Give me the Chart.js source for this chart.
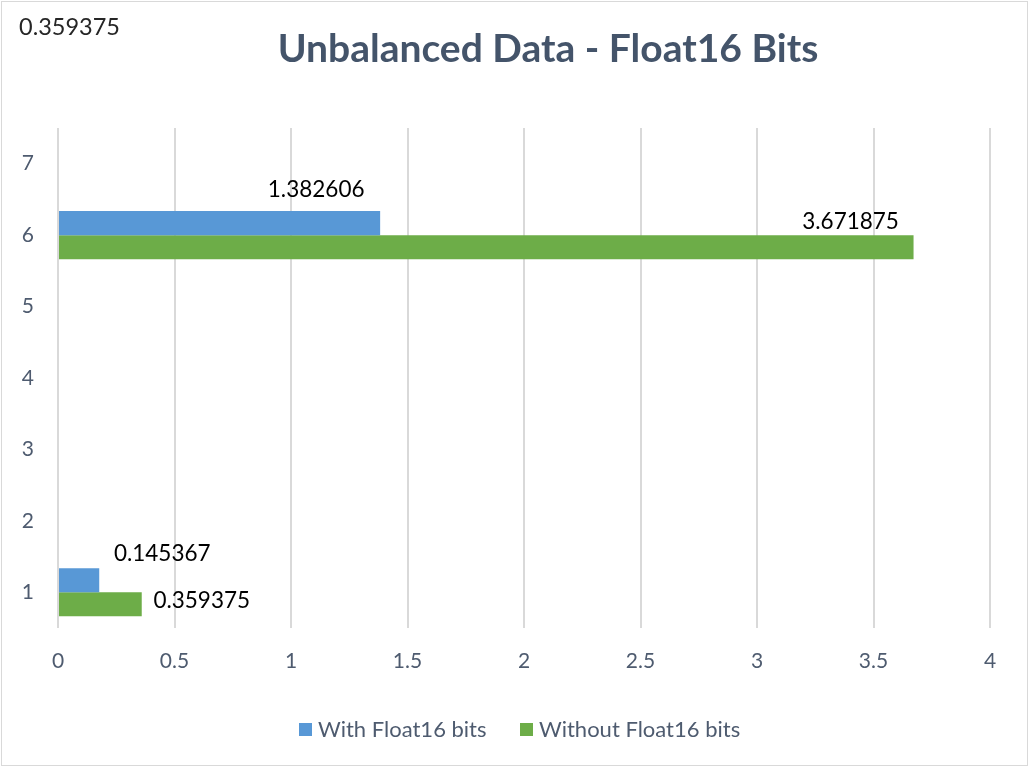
<!DOCTYPE html>
<html>
<head>
<meta charset="utf-8">
<script src="https://cdn.jsdelivr.net/npm/chart.js@4/dist/chart.umd.min.js"></script>
<style>
  html, body { margin: 0; padding: 0; background: #fff; overflow: hidden; }
  #wrap { width: 1029px; height: 767px; position: relative; }
</style>
</head>
<body>
<div id="wrap"><canvas id="floatChart"></canvas></div>
<script>
// chart data
const categories = ['1', '2', '3', '4', '5', '6', '7'];
const withFloat16 = [0.177, null, null, null, null, 1.382606, null];
const withoutFloat16 = [0.359375, null, null, null, null, 3.671875, null];
const withLabels = ['0.145367', null, null, null, null, '1.382606', null];
const withoutLabels = ['0.359375', null, null, null, null, '3.671875', null];
const xTicks = [0, 0.5, 1, 1.5, 2, 2.5, 3, 3.5, 4];
const seriesNames = ['With Float16 bits', 'Without Float16 bits'];
const chartTitle = 'Unbalanced Data - Float16 Bits';
const strayText = '0.359375';

const blue = '#5898d6';
const green = '#6dad48';
const axisText = '#4e5b6f';
const font = 'Lato, "Open Sans", sans-serif';

// where each data label sits relative to the bar end / bar centre
const labelOffsets = [
  [[63, -27], null, null, null, null, [-64, -33], null],
  [[60, -4], null, null, null, null, [-63, -25], null]
];

// background, border, title, stray label and legend
const decorPlugin = {
  id: 'decor',
  beforeDraw(chart) {
    const ctx = chart.ctx;
    ctx.save();
    ctx.fillStyle = '#fff';
    ctx.fillRect(0, 0, chart.width, chart.height);
    ctx.strokeStyle = '#d9d9d9';
    ctx.lineWidth = 1;
    ctx.strokeRect(1.5, 1.5, chart.width - 3, chart.height - 3);
    ctx.restore();
  },
  afterDraw(chart) {
    const ctx = chart.ctx;
    ctx.save();
    ctx.textBaseline = 'middle';

    ctx.fillStyle = '#44546a';
    ctx.font = 'bold 39px ' + font;
    ctx.textAlign = 'center';
    ctx.fillText(chartTitle, 548, 49);

    ctx.fillStyle = '#262626';
    ctx.font = '23.5px ' + font;
    ctx.textAlign = 'left';
    ctx.fillText(strayText, 19, 27);

    const colors = [blue, green];
    const xs = [299, 520];
    ctx.font = '22px ' + font;
    seriesNames.forEach((name, i) => {
      ctx.fillStyle = colors[i];
      ctx.fillRect(xs[i], 723, 13, 13);
      ctx.fillStyle = axisText;
      ctx.fillText(name, xs[i] + 19, 730);
    });
    ctx.restore();
  }
};

// data labels drawn next to the bars
const labelPlugin = {
  id: 'barLabels',
  afterDatasetsDraw(chart) {
    const ctx = chart.ctx;
    const texts = [withLabels, withoutLabels];
    ctx.save();
    ctx.fillStyle = '#000';
    ctx.font = '22.5px ' + font;
    ctx.textAlign = 'center';
    ctx.textBaseline = 'middle';
    chart.data.datasets.forEach((ds, di) => {
      const meta = chart.getDatasetMeta(di);
      meta.data.forEach((bar, i) => {
        const txt = texts[di][i];
        const off = labelOffsets[di][i];
        if (!txt || !off || ds.data[i] == null) return;
        ctx.fillText(txt, bar.x + off[0], bar.y + off[1]);
      });
    });
    ctx.restore();
  }
};

const floatChart = new Chart(document.getElementById('floatChart'), {
  type: 'bar',
  data: {
    labels: categories,
    datasets: [{
      label: seriesNames[0],
      data: withFloat16,
      backgroundColor: blue,
      barPercentage: 1,
      categoryPercentage: 0.673
    }, {
      label: seriesNames[1],
      data: withoutFloat16,
      backgroundColor: green,
      barPercentage: 1,
      categoryPercentage: 0.673
    }]
  },
  options: {
    indexAxis: 'y',
    responsive: true,
    maintainAspectRatio: false,
    animation: false,
    layout: { padding: { left: 0, right: 39, top: 128, bottom: 89 } },
    plugins: {
      legend: { display: false },
      title: { display: false },
      tooltip: { enabled: false }
    },
    scales: {
      x: {
        min: 0,
        max: 4,
        afterBuildTicks(scale) {
          scale.ticks = xTicks.map(v => ({ value: v }));
        },
        afterFit(scale) { scale.height = 50; },
        border: { display: false },
        grid: { color: '#d9d9d9', lineWidth: 2, drawTicks: false },
        ticks: {
          color: axisText,
          font: { family: font, size: 21 },
          padding: 21,
          callback: v => String(v)
        }
      },
      y: {
        reverse: true,
        afterFit(scale) { scale.width = 58; },
        border: { display: false },
        grid: { display: false, drawTicks: false },
        ticks: { color: axisText, font: { family: font, size: 21 }, padding: 24 }
      }
    }
  },
  plugins: [decorPlugin, labelPlugin]
});
</script>
</body>
</html>
